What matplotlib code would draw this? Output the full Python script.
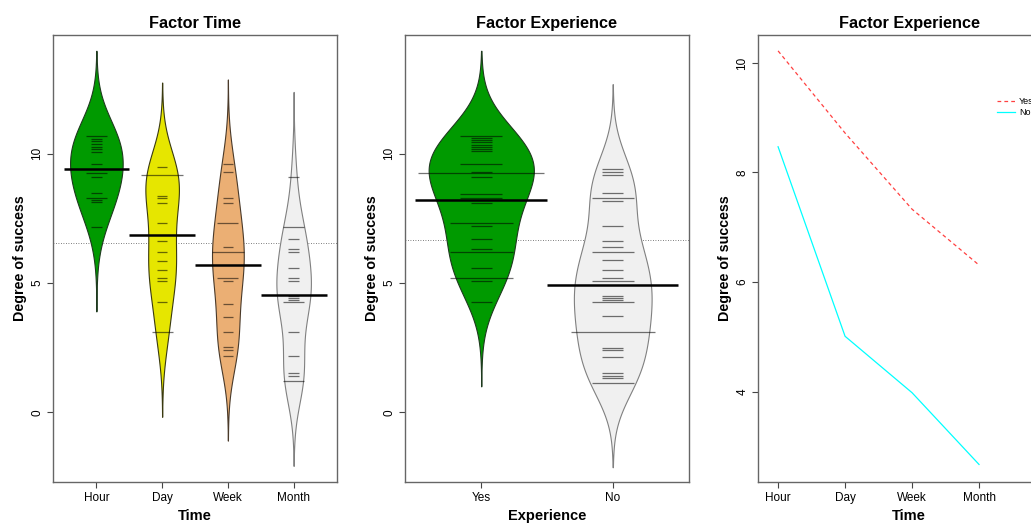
import numpy as np
import matplotlib.pyplot as plt

plt.rcParams['font.family'] = ['Liberation Sans', 'DejaVu Sans']

# degree of success, grouped by time since learning
time_levels = ['Hour', 'Day', 'Week', 'Month']
hour = [10.71, 10.71, 10.57, 10.48, 10.39, 10.28, 10.19, 10.08, 9.60, 9.25, 9.25,
        9.12, 8.48, 8.31, 8.31, 8.22, 8.13, 7.18]
day = [9.48, 9.19, 9.19, 9.19, 9.19, 8.37, 8.29, 8.11, 7.31, 6.61, 6.19, 5.85,
       5.50, 5.19, 5.08, 4.28, 3.10, 3.10]
week = [9.60, 9.28, 8.29, 8.10, 7.31, 7.31, 6.38, 6.19, 6.19, 6.19, 5.19, 5.19,
        5.08, 4.19, 3.70, 3.10, 2.51, 2.40, 2.18]
month = [9.12, 7.18, 7.18, 6.71, 6.30, 6.21, 5.58, 5.18, 5.08, 4.50, 4.42, 4.34,
         4.28, 4.28, 3.10, 2.17, 1.50, 1.40, 1.20, 1.20]

# same scores, grouped by prior experience
exp_levels = ['Yes', 'No']
exp_yes = [10.71, 10.71, 10.61, 10.53, 10.44, 10.36, 10.28, 10.19, 10.12, 9.61, 9.61,
           9.30, 9.24, 9.24, 9.24, 9.24, 9.24, 9.24, 9.12, 8.45, 8.45, 8.31, 8.31,
           8.11, 7.31, 7.31, 7.31, 7.22, 6.71, 6.30, 6.19, 6.19, 6.19, 5.58, 5.19,
           5.19, 5.19, 5.08, 4.28]
exp_no = [9.42, 9.30, 9.20, 8.50, 8.31, 8.31, 8.18, 7.22, 6.61, 6.38, 6.19, 6.19,
          5.88, 5.50, 5.19, 5.08, 5.08, 4.48, 4.41, 4.34, 4.28, 4.28, 3.71, 3.09,
          3.09, 3.09, 3.09, 2.48, 2.40, 2.14, 1.50, 1.42, 1.34, 1.15, 1.15]

# mean success per time level and experience
mean_yes = [10.22, 8.72, 7.33, 6.31]
mean_no = [8.47, 5.01, 3.98, 2.67]

BW = 1.15      # kernel bandwidth shared by all beans
CUT = 2.85     # density drawn this many bandwidths past the data
LL = 0.16      # beanline length per observation
MAXWIDTH = 0.8


def density(values, grid):
    v = np.asarray(values)[:, None]
    k = np.exp(-0.5 * ((grid[None, :] - v) / BW) ** 2)
    return k.sum(axis=0) / (len(values) * BW * np.sqrt(2 * np.pi))


def beanplot(ax, groups, fills, borders):
    curves = []
    for g in groups:
        y = np.linspace(min(g) - CUT * BW, max(g) + CUT * BW, 600)
        curves.append((y, density(g, y)))
    scale = MAXWIDTH / 2 / max(d.max() for _, d in curves)

    overall = np.mean(np.concatenate(groups))
    ax.axhline(overall, color='#555555', lw=0.6, ls=(0, (1, 2)), zorder=1)

    for i, (g, (y, d)) in enumerate(zip(groups, curves)):
        pos = i + 1
        ax.fill_betweenx(y, pos - d * scale, pos + d * scale, facecolor=fills[i],
                         edgecolor=borders[i], lw=0.8, zorder=2)
        vals, counts = np.unique(np.round(g, 2), return_counts=True)
        for v, n in zip(vals, counts):
            half = LL * n / 2
            ax.plot([pos - half, pos + half], [v, v], color='black', alpha=0.55,
                    lw=0.9, zorder=3, solid_capstyle='butt')
        ax.plot([pos - 0.5, pos + 0.5], [np.mean(g)] * 2, color='black', lw=1.8,
                zorder=4, solid_capstyle='butt')

    ax.set_xlim(0.5 - 0.04 * len(groups), len(groups) + 0.5 + 0.04 * len(groups))
    ax.set_ylim(-2.7, 14.6)
    ax.set_yticks([0, 5, 10])


def style(ax, title, xlabel):
    ax.set_title(title, fontweight='bold', fontsize=11.7, pad=5)
    ax.set_xlabel(xlabel, fontweight='bold', fontsize=10.5, labelpad=4)
    ax.set_ylabel('Degree of success', fontweight='bold', fontsize=10.3, labelpad=3)
    ax.tick_params(direction='out', length=4, width=0.8, color='#444444',
                   labelsize=8.5, pad=3)
    for lab in ax.get_yticklabels():
        lab.set_rotation(90)
        lab.set_va('center')
    for sp in ax.spines.values():
        sp.set_color('#666666')
        sp.set_linewidth(1)


fig = plt.figure(figsize=(10.31, 5.31), dpi=100)
ax1 = fig.add_axes([0.0514, 0.0923, 0.2755, 0.8418])
ax2 = fig.add_axes([0.3928, 0.0923, 0.2755, 0.8418])
ax3 = fig.add_axes([0.7352, 0.0923, 0.2930, 0.8418])

beanplot(ax1, [hour, day, week, month],
         ['#009A00', '#E6E600', '#EBAF74', '#F0F0F0'],
         ['#1E3A1E', '#3A3A10', '#4A3A2A', '#808080'])
ax1.set_xticks(range(1, 5))
ax1.set_xticklabels(time_levels)
style(ax1, 'Factor Time', 'Time')

beanplot(ax2, [exp_yes, exp_no], ['#009A00', '#F0F0F0'], ['#1E3A1E', '#808080'])
ax2.set_xticks([1, 2])
ax2.set_xticklabels(exp_levels)
style(ax2, 'Factor Experience', 'Experience')

x = np.arange(1, len(time_levels) + 1)
ax3.plot(x, mean_yes, color='#FF4040', lw=0.9, dashes=(3, 2.5), label='Yes')
ax3.plot(x, mean_no, color='cyan', lw=0.9, label='No')
ax3.set_xlim(0.70, 5.21)
ax3.set_ylim(2.35, 10.51)
ax3.set_xticks(x)
ax3.set_xticklabels(time_levels)
ax3.set_yticks([4, 6, 8, 10])
ax3.legend(loc='upper left', bbox_to_anchor=(0.790, 0.862), frameon=False,
           fontsize=6.5, handlelength=2.0, handletextpad=0.5, labelspacing=0.25,
           borderpad=0, borderaxespad=0)
style(ax3, 'Factor Experience', 'Time')

fig.savefig('out.png', dpi=100)
